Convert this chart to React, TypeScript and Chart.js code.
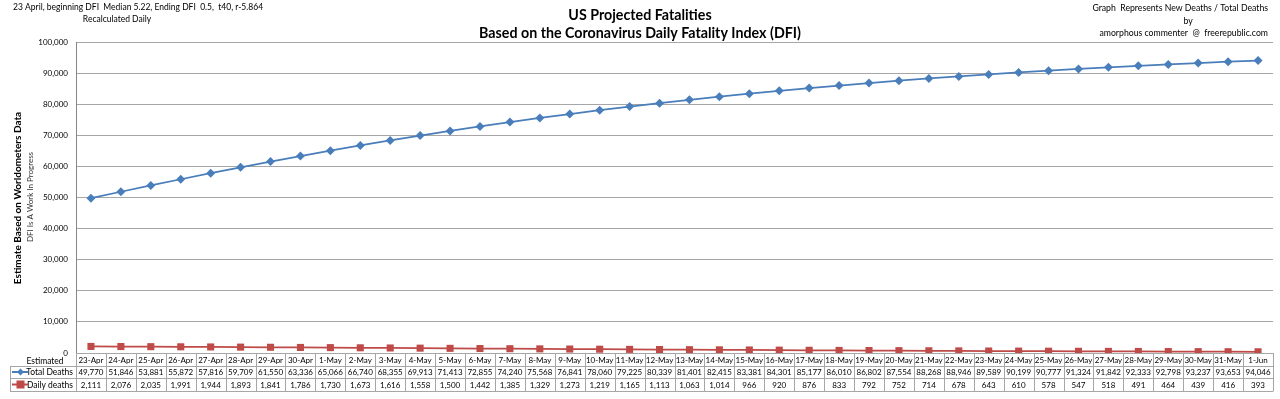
import React, { useEffect, useRef } from "react";
import { Chart, registerables } from "chart.js";

Chart.register(...registerables);

const dates = [
  "23-Apr", "24-Apr", "25-Apr", "26-Apr", "27-Apr", "28-Apr", "29-Apr", "30-Apr",
  "1-May", "2-May", "3-May", "4-May", "5-May", "6-May", "7-May", "8-May", "9-May", "10-May",
  "11-May", "12-May", "13-May", "14-May", "15-May", "16-May", "17-May", "18-May", "19-May", "20-May",
  "21-May", "22-May", "23-May", "24-May", "25-May", "26-May", "27-May", "28-May", "29-May", "30-May",
  "31-May", "1-Jun",
];

const totalDeaths = [
  49770, 51846, 53881, 55872, 57816, 59709, 61550, 63336,
  65066, 66740, 68355, 69913, 71413, 72855, 74240, 75568, 76841, 78060,
  79225, 80339, 81401, 82415, 83381, 84301, 85177, 86010, 86802, 87554,
  88268, 88946, 89589, 90199, 90777, 91324, 91842, 92333, 92798, 93237,
  93653, 94046,
];

const dailyDeaths = [
  2111, 2076, 2035, 1991, 1944, 1893, 1841, 1786,
  1730, 1673, 1616, 1558, 1500, 1442, 1385, 1329, 1273, 1219,
  1165, 1113, 1063, 1014, 966, 920, 876, 833, 792, 752,
  714, 678, 643, 610, 578, 547, 518, 491, 464, 439,
  416, 393,
];

const yTicks = [0, 10000, 20000, 30000, 40000, 50000, 60000, 70000, 80000, 90000, 100000];

const BLUE = "#4A7EBB";
const RED = "#BE4B48";
const FONT = "Lato";
const GRID = "#a6a6a6";

const fmt = (v: number) => v.toLocaleString("en-US");

const decorPlugin = {
  id: "decor",
  afterDraw(chart: any) {
    const ctx = chart.ctx as CanvasRenderingContext2D;
    const area = chart.chartArea;
    const xs = chart.scales.x;
    const n = dates.length;
    const w = (area.right - area.left) / n;
    const rowTop = area.bottom;
    const r1 = 366;
    const r2 = 378;
    const r3 = 391;
    const legLeft = 10;

    ctx.save();
    // table lines
    ctx.strokeStyle = GRID;
    ctx.lineWidth = 1;
    ctx.beginPath();
    for (let k = 0; k <= n; k++) {
      const x = Math.round(area.left + k * w) + 0.5;
      ctx.moveTo(x, rowTop);
      ctx.lineTo(x, r3);
    }
    ctx.moveTo(legLeft + 0.5, r1);
    ctx.lineTo(legLeft + 0.5, r3);
    [r1, r2, r3].forEach((y) => {
      ctx.moveTo(legLeft, y + 0.5);
      ctx.lineTo(Math.round(area.right) + 0.5, y + 0.5);
    });
    ctx.stroke();

    // table text
    ctx.fillStyle = "#000";
    ctx.font = `8px ${FONT}`;
    ctx.textAlign = "center";
    ctx.textBaseline = "middle";
    for (let i = 0; i < n; i++) {
      const cx = xs.getPixelForValue(i);
      ctx.fillText(dates[i], cx, 360);
      ctx.fillText(fmt(totalDeaths[i]), cx, 372.5);
      ctx.fillText(fmt(dailyDeaths[i]), cx, 385);
    }
    ctx.font = `8.5px ${FONT}`;
    ctx.fillText("Estimated", 45, 361);

    // legend keys
    ctx.textAlign = "right";
    ctx.fillText("Total Deaths", 73, 372.5);
    ctx.fillText("Daily deaths", 73, 385);
    ctx.lineWidth = 2;
    ctx.strokeStyle = BLUE;
    ctx.beginPath();
    ctx.moveTo(12, 372);
    ctx.lineTo(28, 372);
    ctx.stroke();
    ctx.fillStyle = BLUE;
    ctx.beginPath();
    ctx.moveTo(20.5, 368.5);
    ctx.lineTo(24, 372);
    ctx.lineTo(20.5, 375.5);
    ctx.lineTo(17, 372);
    ctx.closePath();
    ctx.fill();
    ctx.strokeStyle = RED;
    ctx.beginPath();
    ctx.moveTo(12, 384.5);
    ctx.lineTo(28, 384.5);
    ctx.stroke();
    ctx.fillStyle = RED;
    ctx.fillRect(16.5, 380.5, 8, 8);

    // titles
    ctx.fillStyle = "#000";
    ctx.textAlign = "center";
    ctx.font = `bold 14.25px ${FONT}`;
    ctx.fillText("US Projected Fatalities", 640, 15);
    ctx.fillText("Based on the Coronavirus Daily Fatality Index (DFI)", 640, 33);

    ctx.font = `8.5px ${FONT}`;
    ctx.textAlign = "left";
    ctx.fillText("23 April, beginning DFI  Median 5.22, Ending DFI  0.5,  t40, r-5.864", 13, 7);
    ctx.textAlign = "center";
    ctx.fillText("Recalculated Daily", 117, 19);

    ctx.font = `8.7px ${FONT}`;
    ctx.textAlign = "right";
    ctx.fillText("Graph  Represents New Deaths / Total Deaths", 1268, 8);
    ctx.textAlign = "center";
    ctx.fillText("by", 1188, 21);
    ctx.textAlign = "right";
    ctx.fillText("amorphous commenter  @  freerepublic.com", 1268, 33);

    // y axis titles
    ctx.save();
    ctx.translate(18, 198);
    ctx.rotate(-Math.PI / 2);
    ctx.textAlign = "center";
    ctx.font = `bold 10px ${FONT}`;
    ctx.fillText("Estimate Based on Worldometers Data", 0, 0);
    ctx.restore();
    ctx.save();
    ctx.translate(30, 197);
    ctx.rotate(-Math.PI / 2);
    ctx.textAlign = "center";
    ctx.font = `8px ${FONT}`;
    ctx.fillStyle = "#333";
    ctx.fillText("DFI Is A Work In Progress", 0, 0);
    ctx.restore();

    ctx.restore();
  },
};

export default function App() {
  const ref = useRef<HTMLCanvasElement>(null);

  useEffect(() => {
    if (!ref.current) return;
    const chart = new Chart(ref.current, {
      type: "line",
      data: {
        labels: dates,
        datasets: [
          {
            label: "Total Deaths",
            data: totalDeaths,
            borderColor: BLUE,
            backgroundColor: BLUE,
            borderWidth: 1.75,
            pointStyle: "rectRot",
            pointRadius: 4.5,
            pointBorderWidth: 0,
            tension: 0,
          },
          {
            label: "Daily deaths",
            data: dailyDeaths,
            borderColor: RED,
            backgroundColor: RED,
            borderWidth: 1.75,
            pointStyle: "rect",
            pointRadius: 5,
            pointBorderWidth: 0,
            tension: 0,
          },
        ],
      },
      options: {
        responsive: false,
        animation: false,
        devicePixelRatio: 1,
        layout: { padding: { top: 42, right: 7, left: 0, bottom: 0 } },
        plugins: { legend: { display: false }, tooltip: { enabled: false }, title: { display: false } },
        scales: {
          x: {
            type: "category",
            offset: true,
            grid: { display: false },
            border: { display: false },
            ticks: { display: false },
            afterFit: (s: any) => {
              s.height = 46;
            },
          },
          y: {
            min: 0,
            max: 100000,
            afterBuildTicks: (s: any) => {
              s.ticks = yTicks.map((v) => ({ value: v }));
            },
            ticks: {
              callback: (v: any) => fmt(Number(v)),
              font: { family: FONT, size: 8 },
              color: "#000",
              padding: 8,
            },
            grid: { color: GRID, drawTicks: false },
            border: { color: "#868686" },
            afterFit: (s: any) => {
              s.width = 76;
            },
          },
        },
      },
      plugins: [decorPlugin],
    });
    return () => chart.destroy();
  }, []);

  return (
    <div style={{ position: "absolute", left: 0, top: 0, width: 1280, height: 399, background: "#fff" }}>
      <canvas ref={ref} width={1280} height={399} style={{ width: 1280, height: 399 }} />
    </div>
  );
}
